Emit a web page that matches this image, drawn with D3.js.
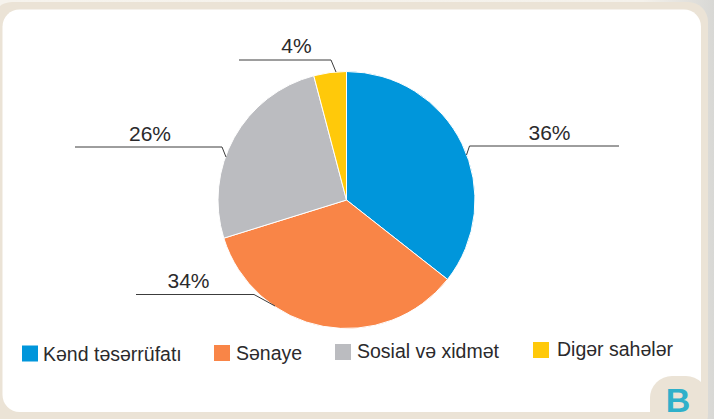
<!DOCTYPE html>
<html><head><meta charset="utf-8">
<script src="https://cdn.jsdelivr.net/npm/d3@7/dist/d3.min.js"></script>
<style>html,body{margin:0;padding:0;background:#fff;overflow:hidden}svg{display:block}text{font-family:"Liberation Sans",Arial,sans-serif;fill:#2b2a2c}</style>
</head><body><svg id="c" width="714" height="419"></svg>
<script>
const categories=["Kənd təsərrüfatı","Sənaye","Sosial və xidmət","Digər sahələr"];
const sliceShares=[35.6,34.6,25.7,4.1];
const colors=["#0096db","#f98547","#bbbcc0","#ffc90a"];
const valueLabels=["36%","34%","26%","4%"];

// layout only
const W=714,H=419,cx=346.5,cy=200,R=128.5;
const legendPos=[{x:22,y:345.5,tx:43,ty:361},{x:214,y:345,tx:236,ty:360},{x:335,y:344,tx:357,ty:358},{x:533,y:342,tx:557,ty:356}];
const labelPos=[
 {tx:549.5,ty:139.5,x0:619,xe:469.5,y:146},
 {tx:188.5,ty:288,x0:136,xe:254,y:294.5},
 {tx:150,ty:141,x0:75,xe:222,y:147},
 {tx:296.5,ty:53,x0:239,xe:331,y:60}];
const anchors=[[466.5,155],[275,306],[226,157],[336,72]];

const svg=d3.select("#c");
const defs=svg.append("defs");
const g=defs.append("linearGradient").attr("id","edge").attr("x1",0).attr("x2",1).attr("y1",0).attr("y2",0);
g.append("stop").attr("offset","0").attr("stop-color","#f6f3ed");
g.append("stop").attr("offset","0.9").attr("stop-color","#f4f1eb");
g.append("stop").attr("offset","1").attr("stop-color","#d8d8d5");
svg.append("rect").attr("width",W).attr("height",H).attr("fill","url(#edge)");
svg.append("rect").attr("x",-8).attr("y",2).attr("width",716).attr("height",425).attr("rx",20).attr("fill","#ebe3d6");
svg.append("rect").attr("x",2.5).attr("y",9.5).attr("width",698.5).attr("height",402.5).attr("rx",17).attr("fill","#fff");
svg.append("rect").attr("x",650).attr("y",376).attr("width",58).attr("height",60).attr("rx",22).attr("fill","#ebe3d6");
svg.append("text").attr("x",678).attr("y",411.5).attr("text-anchor","middle").attr("font-size",34).attr("font-weight",700)
  .style("fill","#2fb0ca").text("B");

const pie=d3.pie().sort(null)(sliceShares);
const arc=d3.arc().innerRadius(0).outerRadius(R);
const pg=svg.append("g").attr("transform",`translate(${cx},${cy})`);
pg.selectAll("path").data(pie).join("path").attr("d",arc).attr("fill",(d,i)=>colors[i]).attr("stroke","#fff").attr("stroke-width",1);

labelPos.forEach((p,i)=>{
  svg.append("path").attr("d",d3.line()([[p.x0,p.y],[p.xe,p.y],anchors[i]])).attr("fill","none").attr("stroke","#3c3c3c").attr("stroke-width",1);
  svg.append("text").attr("x",p.tx).attr("y",p.ty).attr("text-anchor","middle").attr("font-size",21).text(valueLabels[i]);
});
const lg=svg.selectAll("g.leg").data(categories).join("g").attr("class","leg");
lg.append("rect").attr("x",(d,i)=>legendPos[i].x).attr("y",(d,i)=>legendPos[i].y).attr("width",16).attr("height",16).attr("fill",(d,i)=>colors[i]);
lg.append("text").attr("x",(d,i)=>legendPos[i].tx).attr("y",(d,i)=>legendPos[i].ty).attr("font-size",19.5).text(d=>d);
</script></body></html>
